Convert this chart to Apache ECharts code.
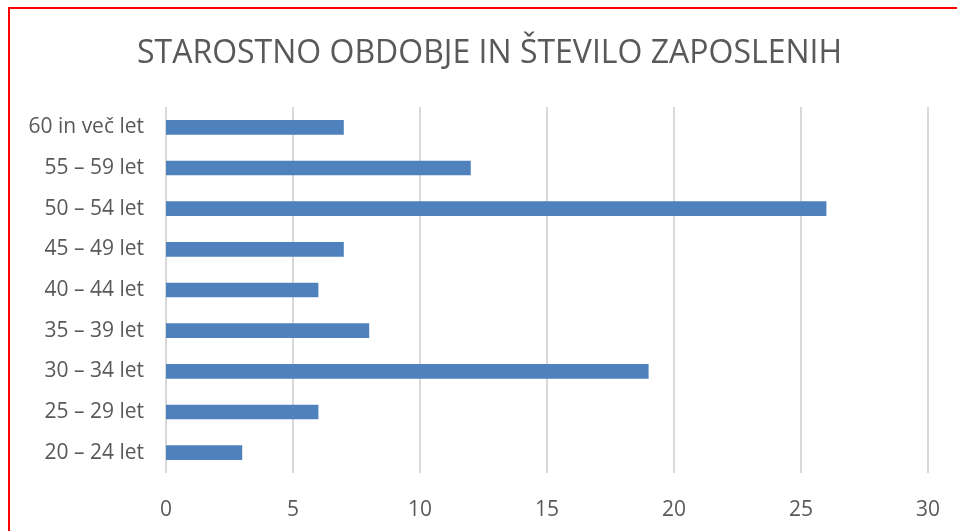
<!DOCTYPE html>
<html>
<head>
<meta charset="utf-8">
<script src="https://cdn.jsdelivr.net/npm/echarts@6/dist/echarts.min.js"></script>
<style>
  html, body { margin: 0; padding: 0; background: #fff; }
  #frame { position: absolute; left: 8px; top: 7px; width: 960px; height: 540px;
           border-left: 2px solid #ff0000; border-top: 2px solid #ff0000; }
  #chart { position: absolute; left: 0; top: 0; width: 957px; height: 531px; }
</style>
</head>
<body>
<div id="frame"></div>
<div id="chart"></div>
<script>
var chartTitle = 'STAROSTNO OBDOBJE IN ŠTEVILO ZAPOSLENIH';
// categories from bottom to top, as the axis draws them
var ageGroups = ['20 – 24 let', '25 – 29 let', '30 – 34 let', '35 – 39 let', '40 – 44 let',
                 '45 – 49 let', '50 – 54 let', '55 – 59 let', '60 in več let'];
var employees = [3, 6, 19, 8, 6, 7, 26, 12, 7];
var xTicks = { min: 0, max: 30, step: 5 };

var textColor = '#595959';
var font = '"Open Sans", sans-serif';

var mychart = echarts.init(document.getElementById('chart'));

mychart.setOption({
	animation: false,
	title: {
		text: chartTitle,
		left: 132,
		top: 33,
		textStyle: { color: textColor, fontSize: 32, fontWeight: 'normal', fontFamily: font }
	},
	grid: { left: 166, right: 29, top: 107, bottom: 58 },
	xAxis: {
		type: 'value',
		min: xTicks.min,
		max: xTicks.max,
		interval: xTicks.step,
		axisLine: { show: false },
		axisTick: { show: false },
		splitLine: { lineStyle: { color: '#d9d9d9', width: 2 } },
		axisLabel: { color: textColor, fontSize: 21, fontFamily: font, margin: 27 }
	},
	yAxis: {
		type: 'category',
		data: ageGroups,
		axisLine: { show: false },
		axisTick: { show: false },
		axisLabel: { color: textColor, fontSize: 21, fontFamily: font, margin: 22 }
	},
	series: [{
		type: 'bar',
		data: employees,
		barWidth: '36%',
		itemStyle: { color: '#4f81bd' }
	}]
});
</script>
</body>
</html>
